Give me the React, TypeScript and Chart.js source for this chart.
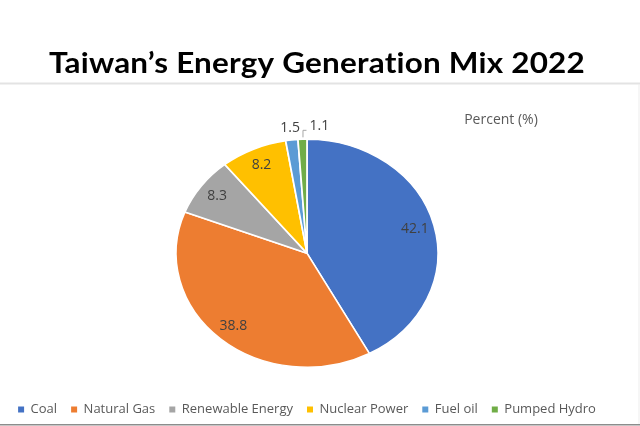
import { useEffect, useRef } from "react";
import { Chart, registerables } from "chart.js";

Chart.register(...registerables);

// Generation mix by source, percent of total
const sources = ["Coal", "Natural Gas", "Renewable Energy", "Nuclear Power", "Fuel oil", "Pumped Hydro"];
const shares = [42.1, 38.8, 8.3, 8.2, 1.5, 1.1];
const sliceColors = ["#4472C4", "#ED7D31", "#A5A5A5", "#FFC000", "#5B9BD5", "#70AD47"];
const chartTitle = "Taiwan’s Energy Generation Mix 2022";
const unitLabel = "Percent (%)";

// The pie is drawn as a slightly wide ellipse
const STRETCH_X = 131 / 114;
const LABEL_FONT = "14px 'Open Sans'";

const decorPlugin = {
  id: "pieDecor",
  beforeDraw(chart: any) {
    const ctx = chart.ctx as CanvasRenderingContext2D;
    ctx.save();
    // slide rules
    ctx.fillStyle = "#e3e3e3";
    ctx.fillRect(0, 82.5, 640, 2);
    ctx.fillStyle = "#ededed";
    ctx.fillRect(638.5, 84, 1, 340);
    ctx.fillStyle = "#8c8c8c";
    ctx.fillRect(0, 424, 640, 1.5);

    // title; a tiny letter spacing keeps "ti" from forming a ligature
    (ctx as any).letterSpacing = "0.2px";
    ctx.font = "bold 29px Lato";
    const w = ctx.measureText(chartTitle).width;
    ctx.translate(317, 73);
    ctx.scale(536 / w, 1);
    ctx.fillStyle = "#000000";
    ctx.textAlign = "center";
    ctx.textBaseline = "alphabetic";
    ctx.fillText(chartTitle, 0, 0);
    ctx.restore();

    // unit caption
    ctx.save();
    ctx.font = LABEL_FONT;
    ctx.fillStyle = "#595959";
    ctx.textAlign = "center";
    ctx.textBaseline = "middle";
    ctx.fillText(unitLabel, 501, 120.5);
    ctx.restore();
  },
  beforeDatasetsDraw(chart: any) {
    const el = chart.getDatasetMeta(0).data[0];
    const { x, y } = el.getProps(["x", "y"], true);
    const ctx = chart.ctx as CanvasRenderingContext2D;
    ctx.save();
    ctx.translate(x, y);
    ctx.scale(STRETCH_X, 1);
    ctx.translate(-x, -y);
  },
  afterDatasetsDraw(chart: any) {
    const ctx = chart.ctx as CanvasRenderingContext2D;
    ctx.restore();

    const meta = chart.getDatasetMeta(0);
    ctx.save();
    ctx.font = LABEL_FONT;
    ctx.fillStyle = "#404040";
    ctx.textBaseline = "middle";
    let smallCount = 0;
    meta.data.forEach((el: any, i: number) => {
      const { x, y, startAngle, endAngle, outerRadius } = el.getProps(
        ["x", "y", "startAngle", "endAngle", "outerRadius"],
        true
      );
      const mid = (startAngle + endAngle) / 2;
      const text = shares[i].toFixed(1);
      if (shares[i] >= 3) {
        const r = outerRadius * 0.85;
        ctx.textAlign = "center";
        ctx.fillText(text, x + Math.cos(mid) * r * STRETCH_X, y + Math.sin(mid) * r);
      } else if (smallCount === 0) {
        smallCount++;
        const r = outerRadius * 1.105;
        ctx.textAlign = "center";
        ctx.fillText(text, x + Math.cos(mid) * r * STRETCH_X, y + Math.sin(mid) * r);
      } else {
        smallCount++;
        // crowded slice: leader line up and to the right
        const ax = x + Math.cos(mid) * outerRadius * STRETCH_X;
        const ay = y + Math.sin(mid) * outerRadius;
        ctx.save();
        ctx.strokeStyle = "#a6a6a6";
        ctx.lineWidth = 1;
        ctx.beginPath();
        ctx.moveTo(ax + 0.5, ay - 2);
        ctx.lineTo(ax + 0.5, ay - 9);
        ctx.lineTo(ax + 4, ay - 9);
        ctx.stroke();
        ctx.restore();
        ctx.textAlign = "left";
        ctx.fillText(text, ax + 7, ay - 13);
      }
    });
    ctx.restore();
  },
};

export default function App() {
  const canvasRef = useRef<HTMLCanvasElement | null>(null);

  useEffect(() => {
    const canvas = canvasRef.current;
    if (!canvas) return;
    const baseLabels = (Chart as any).overrides.doughnut.plugins.legend.labels.generateLabels;
    const chart = new Chart(canvas, {
      type: "pie",
      data: {
        labels: sources,
        datasets: [
          {
            data: shares,
            backgroundColor: sliceColors,
            borderColor: "#ffffff",
            borderWidth: 1.5,
            radius: 114,
          },
        ],
      },
      options: {
        responsive: false,
        animation: false,
        layout: { padding: { top: 117.5, right: 26, left: 0, bottom: 0 } },
        plugins: {
          tooltip: { enabled: false },
          title: { display: false },
          legend: {
            position: "bottom",
            labels: {
              font: { family: "'Open Sans'", size: 13 },
              color: "#595959",
              boxWidth: 6,
              boxHeight: 6,
              padding: 14,
              generateLabels(c: any) {
                return baseLabels(c).map((l: any) => ({ ...l, lineWidth: 0 }));
              },
            },
          },
        },
      },
      plugins: [decorPlugin],
    } as any);
    return () => chart.destroy();
  }, []);

  return (
    <div style={{ position: "fixed", left: 0, top: 0, width: 640, height: 426, background: "#ffffff" }}>
      <canvas ref={canvasRef} width={640} height={426} />
    </div>
  );
}
